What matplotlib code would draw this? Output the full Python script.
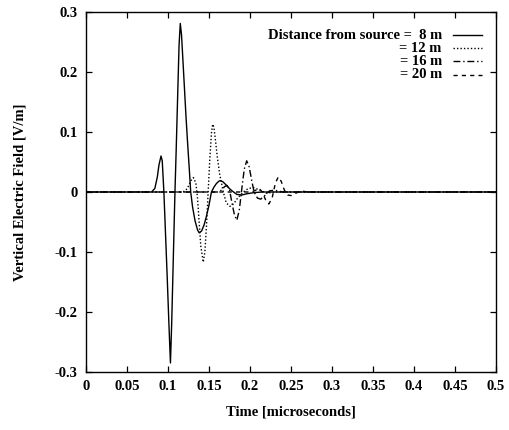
import matplotlib.pyplot as plt
from matplotlib.lines import Line2D

plt.rcParams['font.family'] = ['Liberation Serif', 'DejaVu Serif']
plt.rcParams['font.weight'] = 'bold'
plt.rcParams['axes.labelweight'] = 'bold'

# 8 m
t_8 = [0, 0.080, 0.084, 0.087, 0.089, 0.0915, 0.093, 0.095, 0.097, 0.099, 0.101, 0.103,
       0.1045, 0.1065, 0.1085, 0.110, 0.112, 0.1135, 0.115, 0.1165, 0.118, 0.120, 0.122,
       0.124, 0.126, 0.1277, 0.130, 0.133, 0.136, 0.138, 0.141, 0.144, 0.147, 0.150, 0.153,
       0.156, 0.159, 0.162, 0.164, 0.167, 0.170, 0.174, 0.178, 0.184, 0.190, 0.196, 0.205,
       0.215, 0.5]
e_8 = [0, 0, 0.006, 0.025, 0.045, 0.060, 0.052, 0.0, -0.07, -0.14, -0.215, -0.285,
       -0.22, -0.11, 0.0, 0.07, 0.17, 0.245, 0.281, 0.262, 0.225, 0.175, 0.125,
       0.08, 0.038, 0.0, -0.025, -0.048, -0.063, -0.068, -0.065, -0.055, -0.04, -0.022, 0.0,
       0.008, 0.014, 0.018, 0.019, 0.017, 0.013, 0.007, 0.002, -0.004, -0.005, -0.003, -0.001,
       0.0, 0.0]

# 12 m
t_12 = [0, 0.118, 0.122, 0.125, 0.128, 0.131, 0.134, 0.136, 0.138, 0.140, 0.143, 0.145,
        0.147, 0.149, 0.151, 0.153, 0.1545, 0.156, 0.158, 0.160, 0.163, 0.1675, 0.171,
        0.1756, 0.180, 0.185, 0.192, 0.198, 0.205, 0.212, 0.22, 0.23, 0.5]
e_12 = [0, 0, 0.003, 0.010, 0.019, 0.024, 0.015, -0.01, -0.05, -0.09, -0.117, -0.1,
        -0.055, 0.0, 0.055, 0.098, 0.113, 0.108, 0.085, 0.06, 0.03, 0.0, -0.018,
        -0.024, -0.02, -0.01, 0.0, 0.006, 0.007, 0.003, -0.002, 0.0, 0.0]

# 16 m
t_16 = [0, 0.162, 0.166, 0.169, 0.172, 0.175, 0.178, 0.181, 0.184, 0.187, 0.190, 0.193,
        0.196, 0.199, 0.202, 0.205, 0.209, 0.213, 0.218, 0.224, 0.23, 0.24, 0.5]
e_16 = [0, 0, 0.004, 0.009, 0.011, 0.004, -0.018, -0.038, -0.047, -0.03, 0.005, 0.038,
        0.052, 0.042, 0.02, 0.0, -0.01, -0.012, -0.006, 0.002, 0.003, 0.0, 0.0]

# 20 m
t_20 = [0, 0.202, 0.207, 0.211, 0.215, 0.219, 0.223, 0.227, 0.231, 0.2345, 0.238, 0.242,
        0.246, 0.25, 0.256, 0.262, 0.27, 0.5]
e_20 = [0, 0, 0.003, 0.006, 0.0, -0.013, -0.020, -0.010, 0.015, 0.025, 0.018, 0.003,
        -0.005, -0.006, -0.002, 0.002, 0.0, 0.0]

labels = ['Distance from source =  8 m', '= 12 m', '= 16 m', '= 20 m']
styles = ['-', (0, (1, 1.5)), (0, (5, 2, 1, 2)), (0, (3, 3))]

fig = plt.figure(figsize=(5.1, 4.3), dpi=100)
ax = fig.add_axes([0.1686, 0.135, 0.8039, 0.837])

series = [(t_8, e_8), (t_12, e_12), (t_16, e_16), (t_20, e_20)]
for (t, e), ls in zip(series, styles):
    ax.plot(t, e, color='black', lw=1.0, linestyle=ls)

ax.set_xlim(0, 0.5)
ax.set_ylim(-0.3, 0.3)
ax.set_xticks([0, 0.05, 0.1, 0.15, 0.2, 0.25, 0.3, 0.35, 0.4, 0.45, 0.5])
ax.set_xticklabels(['0', '0.05', '0.1', '0.15', '0.2', '0.25', '0.3', '0.35', '0.4', '0.45', '0.5'])
ax.set_yticks([-0.3, -0.2, -0.1, 0, 0.1, 0.2, 0.3])
ax.set_yticklabels(['-0.3', '-0.2', '-0.1', '0', '0.1', '0.2', '0.3'])
ax.tick_params(direction='in', top=True, right=True, length=4, width=0.9,
               labelsize=10.5, pad=6)
for s in ax.spines.values():
    s.set_linewidth(1.0)

ax.set_xlabel('Time [microseconds]', fontsize=10.5, labelpad=9)
ax.set_ylabel('Vertical Electric Field [V/m]', fontsize=10.5, labelpad=20)

# gnuplot style key: right aligned text, sample to its right
for i, (lab, ls) in enumerate(zip(labels, styles)):
    y = 0.935 - i * 0.0362
    ax.text(0.868, y, lab, transform=ax.transAxes, ha='right', va='center', fontsize=10.5)
    ax.add_line(Line2D([0.895, 0.966], [y, y], transform=ax.transAxes,
                       color='black', lw=1.0, linestyle=ls))

fig.savefig('out.png')
